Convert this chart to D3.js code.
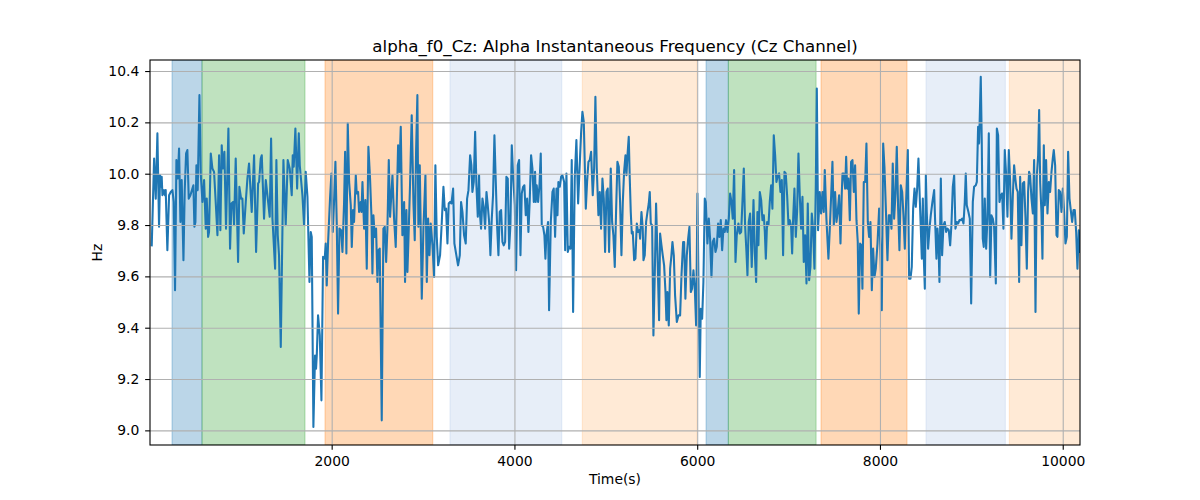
<!DOCTYPE html>
<html>
<head>
<meta charset="utf-8">
<script src="https://cdn.jsdelivr.net/npm/d3@7"></script>
<style>
body { margin: 0; background: #ffffff; }
text { font-family: "DejaVu Sans", sans-serif; fill: #000; }
</style>
</head>
<body>
<svg id="chart" width="1200" height="500"></svg>
<script>
// ---- data ----
const times = [
31,57,75,93,111,122,133,140,148,166,177,184,202,221,239,257,272,286,301,316,330,345,359,378,392,407,421,436,454,476,487,498,509,520,534,553,567,586,604,622,633,648,658,677,695,713,731,750,768,782,797,808,826,844,870,888,903,921,932,950,976,990,1009,1023,1038,1060,1078,1096,1125,1151,1173,1195,1206,1224,1235,1260,1279,1297,1322,1337,1352,1381,1395,1410,1424,1443,1472,1497,1519,1541,1563,1574,1585,1603,1622,1640,1651,1680,1698,1716,1735,1757,1771,
1782,1800,1818,1829,1837,1851,1870,1888,1906,1924,1935,1946,1961,1983,1997,2012,2026,2041,2056,2070,2085,2103,2118,2136,2147,2161,2176,2191,2209,2220,2234,2245,2264,2274,2289,2300,2318,2326,2337,2355,2369,2384,2402,2420,2435,2446,2457,2471,2486,2501,2512,2526,2548,2566,2581,2596,2610,2625,2639,2665,2683,2701,2727,2741,2756,2774,2793,2803,2818,2829,2840,2858,2876,2895,2909,2924,2938,2949,2964,2986,3004,3026,3041,3055,3070,3084,3103,3121,3135,3150,3165,3186,3205,3223,3238,3252,3267,3281,3296,3311,3329,3343,
3383,3402,3416,3431,3449,3467,3482,3497,3515,3529,3540,3555,3570,3584,3599,3613,3621,3635,3650,3664,3679,3694,3708,3723,3737,3752,3766,3781,3796,3810,3825,3839,3854,3869,3883,3898,3912,3927,3942,3956,3971,3985,4004,4018,4036,4051,4066,4080,4095,4109,4124,4139,4153,4168,4182,4197,4212,4226,4233,4244,4259,4274,4288,4299,4314,4328,4339,4350,4368,4379,4398,4416,4430,4445,4460,4471,4481,4496,4511,4525,4544,4555,4569,4584,4598,4613,4627,4642,4660,4678,4697,4711,4730,4744,4759,4781,4795,4810,4824,4839,4857,4872,4886,4901,4919,4934,4948,4963,4978,4992,5007,5021,5036,
5054,5069,5083,5098,5113,5127,5142,5156,5171,5186,5200,5215,5226,5237,5251,5262,5273,5284,5295,5310,5324,5339,5353,5368,5375,5390,5404,5412,5426,5441,5456,5470,5481,5492,5507,5521,5536,5550,5565,5583,5594,5609,5623,5638,5653,5663,5674,5689,5704,5718,5729,5744,5758,5777,5795,5813,5828,5846,5857,5871,5886,5901,5915,5930,5944,5959,5974,5988,6003,6017,6028,6039,6054,6068,6083,6094,6112,6127,6141,6156,6170,6185,6200,6214,6229,6243,6258,6273,6287,6302,6316,6331,6346,6360,6375,6389,6404,6419,6433,6451,6466,6481,6495,6510,6524,6539,6550,6564,6579,6597,6616,6630,6645,6659,6670,6685,6700,6714,6729,6740,
6751,6765,6780,6794,6809,6823,6838,6853,6867,6882,6896,6911,6926,6940,6955,6969,6984,6999,7013,7028,7039,7050,7064,7079,7093,7108,7123,7137,7152,7166,7181,7196,7210,7225,7239,7254,7268,7283,7298,7309,7323,7341,7356,7371,7385,7396,7414,7436,7451,7466,7480,7495,7509,7524,7538,7553,7568,7582,7590,7604,7619,7630,7641,7655,7670,7684,7699,7714,7728,7743,7757,7768,7783,7797,7808,7823,7838,7852,7867,7881,7896,7911,7925,7940,7954,7973,7991,8005,8020,8035,8049,8067,8082,8097,8111,8126,8140,8155,8170,8184,8199,8213,8228,8243,8257,8272,8286,8305,8319,8334,8348,8363,8378,8392,8407,8421,
8458,8469,8480,8491,8502,8512,8527,8542,8556,8574,8593,8604,8618,8629,8640,8651,8666,8680,8695,8709,8724,8739,8753,8768,8782,8797,8812,8826,8841,8855,8870,8885,8899,8914,8928,8939,8950,8968,8983,8998,9016,9030,9049,9060,9074,9085,9103,9114,9125,9136,9147,9162,9176,9191,9206,9220,9235,9249,9268,9279,9293,9308,9322,9337,9351,9366,9381,9395,9410,9424,9439,9454,9468,9483,9494,9508,9523,9534,9548,9563,9578,9592,9607,9621,9632,9643,9658,9673,9687,9702,9716,9731,9742,9753,9767,9778,9793,9804,9818,9833,9848,9862,9877,9891,9902,9917,9932,9942,9957,9972,9986,10001,10015,10030,10045,10059,10074,10088,10103,10118,10132,10147,10161,10176,10190
];
const hz = [
9.721,10.059,9.903,10.157,9.793,9.994,9.949,9.988,9.916,9.936,9.916,9.936,9.702,9.916,9.929,9.936,9.890,9.546,10.053,9.981,10.098,9.812,9.975,9.663,9.936,10.079,10.092,9.903,9.916,9.942,9.955,9.793,9.812,10.033,9.936,10.306,10.001,9.890,9.975,9.786,9.903,9.754,9.773,10.079,10.020,10.007,9.890,9.760,10.072,9.780,10.111,10.020,10.085,9.786,10.176,9.708,9.884,9.890,9.799,10.059,9.656,9.949,9.903,9.903,9.767,9.890,9.981,10.040,9.851,10.072,9.695,9.962,9.968,10.059,10.072,9.825,9.975,9.916,9.832,10.137,9.825,9.630,10.053,9.760,9.682,9.325,10.053,9.799,10.053,10.020,9.916,10.072,10.027,10.176,9.942,10.157,10.033,9.916,9.799,10.007,9.910,9.578,9.773,
9.754,9.013,9.292,9.240,9.292,9.448,9.370,9.117,9.676,9.669,9.728,9.565,9.734,9.910,10.001,9.773,9.890,10.046,9.799,9.455,9.786,9.780,9.695,9.890,10.085,9.689,10.196,9.968,9.877,9.715,9.858,9.812,9.994,9.923,9.929,9.851,9.890,9.851,9.968,9.786,9.897,9.630,10.105,9.981,9.838,9.611,9.838,9.754,9.786,9.578,9.702,9.708,9.039,9.786,9.793,9.656,9.786,10.053,9.832,9.994,9.825,9.715,10.111,10.007,10.183,9.760,9.890,9.578,9.858,9.617,9.741,9.962,10.228,9.884,9.741,10.092,10.306,9.793,10.033,9.513,9.786,9.994,9.578,9.825,9.682,9.806,9.721,9.598,10.033,9.754,9.643,9.682,9.812,9.949,9.858,9.864,9.728,9.884,9.890,9.884,9.942,9.728,
9.643,9.682,9.890,9.851,9.760,9.728,9.903,9.936,10.072,10.033,9.929,9.968,10.163,9.955,9.832,9.994,9.851,9.786,9.903,9.871,9.786,9.929,9.877,9.812,9.682,9.825,9.916,10.150,9.968,9.799,9.682,9.851,9.858,9.734,9.721,9.734,9.988,9.981,9.708,9.799,10.111,9.994,9.877,9.624,10.033,10.053,9.682,9.923,9.949,9.955,9.838,9.903,9.773,9.903,10.072,10.020,9.890,10.007,9.890,9.955,9.890,9.955,10.079,9.799,9.793,9.760,9.669,9.760,9.812,9.468,9.812,9.929,9.942,9.754,9.942,9.838,9.968,9.949,9.988,9.994,9.968,9.702,10.001,9.695,9.715,9.708,10.053,9.461,9.981,10.131,9.884,10.007,10.163,10.241,10.202,9.864,9.968,10.046,10.053,10.085,9.916,10.020,10.300,10.020,9.838,9.929,9.786,9.981,9.903,9.695,9.929,9.942,9.695,
10.020,9.812,9.760,9.637,9.864,10.046,10.027,9.890,9.682,9.890,10.007,10.072,9.994,10.072,10.144,9.981,9.851,9.767,9.773,9.663,9.669,9.806,9.773,9.780,9.747,9.851,9.786,9.663,9.682,9.812,9.851,9.884,9.929,9.806,9.799,9.370,9.611,9.884,9.689,9.429,9.767,9.721,9.682,9.643,9.539,9.429,9.539,9.409,9.630,9.682,9.734,9.682,9.526,9.422,9.448,9.448,9.604,9.734,9.734,9.513,9.682,9.747,9.793,9.539,9.552,9.624,9.552,9.409,9.923,9.474,9.208,9.474,9.435,9.578,9.903,9.890,9.728,9.825,9.747,9.598,9.734,9.747,9.695,9.715,9.806,9.754,9.819,9.702,9.786,9.773,9.819,9.773,9.825,9.923,9.890,9.825,10.014,9.656,9.760,9.806,9.767,9.773,9.890,10.020,9.799,9.695,9.604,9.812,9.845,9.637,9.897,9.695,9.578,9.851,9.721,9.929,9.897,9.819,9.838,9.773,
9.669,9.812,9.799,9.890,9.955,9.864,10.150,10.072,9.968,9.994,10.001,9.929,9.975,9.682,10.007,10.001,9.916,9.799,9.819,9.793,9.689,9.825,9.942,9.754,9.851,10.079,9.910,9.786,9.910,9.656,9.760,9.572,9.884,9.585,9.637,9.845,9.786,9.630,9.955,10.332,9.780,9.929,9.845,9.929,9.851,10.014,9.825,9.669,9.786,9.916,10.046,9.799,9.929,9.812,9.851,9.916,9.728,9.923,10.001,10.001,9.942,10.066,9.942,9.981,9.819,10.046,10.053,9.929,10.033,9.819,9.734,9.455,9.728,9.721,9.552,9.968,9.968,10.118,9.812,9.754,9.812,9.546,9.708,9.598,9.630,9.728,9.864,9.702,9.468,10.118,10.027,9.838,9.663,9.838,9.838,9.786,10.040,9.825,9.923,10.105,9.864,9.702,9.955,9.929,9.838,9.708,9.890,10.092,9.591,9.591,9.637,9.864,9.942,9.871,9.942,10.059,
9.669,9.903,9.669,9.552,9.994,9.851,9.708,9.786,9.838,9.890,9.936,9.812,9.669,9.786,9.734,9.578,9.981,9.682,9.799,9.812,9.773,9.786,9.780,9.721,9.799,9.949,9.994,9.786,9.812,9.806,9.819,9.819,9.825,9.806,9.890,10.001,9.877,9.851,9.825,9.494,9.890,9.949,9.955,9.968,10.183,10.118,10.378,10.124,9.747,9.715,9.903,9.708,9.825,10.157,9.598,9.838,9.825,9.793,9.572,10.176,10.150,9.890,9.916,9.923,9.786,10.092,9.994,9.832,10.092,9.975,9.747,9.916,10.033,9.975,9.942,9.929,9.578,9.988,9.721,9.962,9.968,9.832,9.630,9.929,10.007,9.994,9.903,9.845,10.053,9.461,9.988,10.072,10.248,9.968,9.851,9.669,10.111,9.877,10.053,9.845,9.968,9.929,10.007,10.059,10.092,10.033,9.760,9.754,9.936,9.929,9.851,9.942,9.851,9.728,9.754,10.085,9.903,9.858,9.812,9.858,9.858,9.773,9.630,9.780,9.695
];
// shaded epochs
const bandStarts = [253, 581, 1927, 3295, 4743, 6097, 6341, 7355, 8504, 9416];
const bandEnds   = [581, 1708, 3106, 4518, 5995, 6341, 7301, 8296, 9372, 10300];
const bandKinds  = ["k1","k2","k3","k4","k5","k1","k2","k3","k4","k5"];
const xTicks = [2000, 4000, 6000, 8000, 10000];
const yTicks = [9.0, 9.2, 9.4, 9.6, 9.8, 10.0, 10.2, 10.4];
const xDomain = [12, 10189];
const yDomain = [8.943, 10.443];
const titleText = "alpha_f0_Cz: Alpha Instantaneous Frequency (Cz Channel)";
const xLabelText = "Time(s)";
const yLabelText = "Hz";

// ---- drawing ----
const L = 150, R = 1080, T = 60, B = 445;
const svg = d3.select("#chart");
const x = d3.scaleLinear().domain(xDomain).range([L, R]);
const y = d3.scaleLinear().domain(yDomain).range([B, T]);
const color = d3.scaleOrdinal().domain(["k1","k2","k3","k4","k5"])
  .range(["#1f77b4", "#2ca02c", "#ff7f0e", "#aec7e8", "#ffbb78"]);

svg.append("rect").attr("width", 1200).attr("height", 500).attr("fill", "#fff");
svg.append("defs").append("clipPath").attr("id", "clip")
  .append("rect").attr("x", L).attr("y", T).attr("width", R - L).attr("height", B - T);

const plot = svg.append("g").attr("clip-path", "url(#clip)");
plot.selectAll("rect.band").data(d3.range(bandStarts.length)).join("rect")
  .attr("class", "band")
  .attr("x", i => x(bandStarts[i]))
  .attr("width", i => x(bandEnds[i]) - x(bandStarts[i]))
  .attr("y", T).attr("height", B - T)
  .attr("fill", i => color(bandKinds[i])).attr("fill-opacity", 0.3)
  .attr("stroke", i => color(bandKinds[i])).attr("stroke-opacity", 0.3).attr("stroke-width", 1.1);

// grid
const gx = svg.append("g").attr("transform", `translate(0,${B})`)
  .call(d3.axisBottom(x).tickValues(xTicks).tickSize(-(B - T)).tickFormat(""));
const gy = svg.append("g").attr("transform", `translate(${L},0)`)
  .call(d3.axisLeft(y).tickValues(yTicks).tickSize(-(R - L)).tickFormat(""));
[gx, gy].forEach(g => {
  g.select(".domain").remove();
  g.selectAll(".tick line").attr("stroke", "#b0b0b0").attr("stroke-width", 1.1);
});

// line
const pts = times.map((t, i) => [t, hz[i]]);
plot.append("path").datum(pts)
  .attr("fill", "none").attr("stroke", "#1f77b4").attr("stroke-width", 2.08)
  .attr("stroke-linejoin", "round").attr("stroke-linecap", "square")
  .attr("d", d3.line().x(d => x(d[0])).y(d => y(d[1])));

// spines
svg.append("rect").attr("x", L).attr("y", T).attr("width", R - L).attr("height", B - T)
  .attr("fill", "none").attr("stroke", "#000").attr("stroke-width", 1.1);

// axes
const ax = svg.append("g").attr("transform", `translate(0,${B})`)
  .call(d3.axisBottom(x).tickValues(xTicks).tickSize(4.86).tickPadding(6.2).tickFormat(d3.format("d")));
const ay = svg.append("g").attr("transform", `translate(${L},0)`)
  .call(d3.axisLeft(y).tickValues(yTicks).tickSize(4.86).tickPadding(5.9).tickFormat(d3.format(".1f")));
[ax, ay].forEach(g => {
  g.select(".domain").remove();
  g.selectAll(".tick line").attr("stroke", "#000").attr("stroke-width", 1.1);
  g.selectAll(".tick text").attr("font-family", "DejaVu Sans").attr("font-size", "13.9px").attr("fill", "#000");
});

svg.append("text").attr("x", (L + R) / 2).attr("y", 51.7).attr("text-anchor", "middle")
  .attr("font-size", "16.67px").text(titleText);
svg.append("text").attr("x", (L + R) / 2).attr("y", 484).attr("text-anchor", "middle")
  .attr("font-size", "13.9px").text(xLabelText);
svg.append("text").attr("transform", `translate(101.5,${(T + B) / 2}) rotate(-90)`)
  .attr("text-anchor", "middle").attr("font-size", "13.9px").text(yLabelText);
</script>
</body>
</html>
